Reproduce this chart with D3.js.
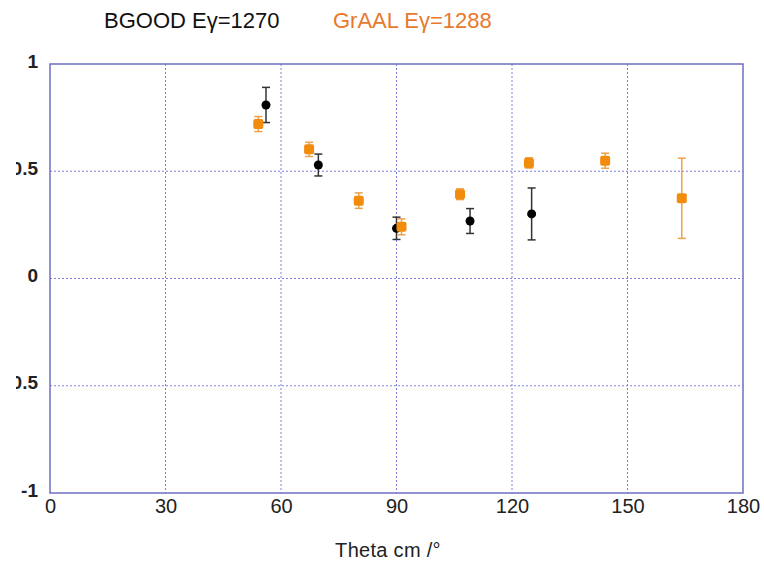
<!DOCTYPE html>
<html><head><meta charset="utf-8">
<script src="https://cdn.jsdelivr.net/npm/d3@7"></script>
<style>body{margin:0;background:#fff}svg{display:block}</style>
</head><body>
<svg id="c" width="764" height="564"></svg>
<script>
const xTicks = [0, 30, 60, 90, 120, 150, 180];
const yTicks = [-1, -0.5, 0, 0.5, 1];
const seriesNames = ["BGOOD E\u03b3=1270", "GrAAL E\u03b3=1288"];
const bgoodTheta = [56.1, 69.7, 90.0, 109.1, 125.1];
const bgoodValue = [0.809, 0.529, 0.234, 0.268, 0.301];
const bgoodError = [0.082, 0.051, 0.052, 0.058, 0.121];
const graalTheta = [54.1, 67.3, 80.2, 91.3, 106.5, 124.4, 144.2, 164.1];
const graalValue = [0.720, 0.602, 0.363, 0.241, 0.393, 0.539, 0.549, 0.374];
const graalError = [0.035, 0.033, 0.036, 0.037, 0.025, 0.024, 0.035, 0.187];

const FONT = "Liberation Sans, Arial, sans-serif";
const svg = d3.select("#c");
const L = 50, R = 743, T = 64, B = 493;
const x = d3.scaleLinear().domain([0, 180]).range([L, R]);
const y = d3.scaleLinear().domain([-1, 1]).range([B, T]);
const gridCol = "#7f7fe0", frameCol = "#6f6fc4";

// grid
svg.append("g").selectAll("line").data(xTicks.filter(d => d > 0 && d < 180)).join("line")
  .attr("x1", d => x(d)).attr("x2", d => x(d)).attr("y1", T).attr("y2", B)
  .attr("stroke", gridCol).attr("stroke-width", 1).attr("stroke-dasharray", "2,2");
svg.append("g").selectAll("line").data(yTicks.filter(d => d > -1 && d < 1)).join("line")
  .attr("x1", L).attr("x2", R).attr("y1", d => y(d)).attr("y2", d => y(d))
  .attr("stroke", gridCol).attr("stroke-width", 1).attr("stroke-dasharray", "2,2");

// frame
svg.append("rect").attr("x", L).attr("y", T).attr("width", R - L).attr("height", B - T)
  .attr("fill", "none").attr("stroke", frameCol).attr("stroke-width", 1.5);

// axes labels via d3 axes
const xAxis = svg.append("g").attr("transform", `translate(0,${B})`)
  .call(d3.axisBottom(x).tickValues(xTicks).tickSize(0).tickPadding(6).tickFormat(d3.format("d")));
xAxis.select(".domain").remove();
xAxis.selectAll("text").attr("font-family", FONT)
  .attr("font-size", 20).attr("fill", "#222");

svg.append("defs").append("clipPath").attr("id", "yclip")
  .append("rect").attr("x", 16).attr("y", 0).attr("width", 40).attr("height", 564);
const yAxis = svg.append("g").attr("clip-path", "url(#yclip)").append("g")
  .attr("transform", `translate(${L},-3)`)
  .call(d3.axisLeft(y).tickValues(yTicks).tickSize(0).tickPadding(12).tickFormat(d => String(d)));
yAxis.select(".domain").remove();
yAxis.selectAll("text").attr("font-family", FONT)
  .attr("font-size", 19).attr("font-weight", "bold").attr("fill", "#222");

svg.append("text").attr("x", 388).attr("y", 557).attr("text-anchor", "middle")
  .attr("font-family", FONT).attr("font-size", 20).attr("letter-spacing", 0.3).attr("fill", "#222")
  .text("Theta cm /\u00b0");

// legend
svg.append("text").attr("x", 104).attr("y", 28).attr("font-family", FONT)
  .attr("font-size", 22).attr("fill", "#111").text(seriesNames[0]);
svg.append("text").attr("x", 333).attr("y", 28).attr("font-family", FONT)
  .attr("font-size", 22).attr("fill", "#e8792c").text(seriesNames[1]);

function drawSeries(thetas, vals, errs, color, errColor, shape) {
  const data = thetas.map((t, i) => ({t, v: vals[i], e: errs[i]}));
  const g = svg.append("g");
  const cap = 4;
  g.selectAll("line.v").data(data).join("line")
    .attr("x1", d => x(d.t)).attr("x2", d => x(d.t))
    .attr("y1", d => y(d.v + d.e)).attr("y2", d => y(d.v - d.e))
    .attr("stroke", errColor).attr("stroke-width", 1.5);
  g.selectAll("line.t").data(data).join("line")
    .attr("x1", d => x(d.t) - cap).attr("x2", d => x(d.t) + cap)
    .attr("y1", d => y(d.v + d.e)).attr("y2", d => y(d.v + d.e))
    .attr("stroke", errColor).attr("stroke-width", 1.5);
  g.selectAll("line.b").data(data).join("line")
    .attr("x1", d => x(d.t) - cap).attr("x2", d => x(d.t) + cap)
    .attr("y1", d => y(d.v - d.e)).attr("y2", d => y(d.v - d.e))
    .attr("stroke", errColor).attr("stroke-width", 1.5);
  if (shape === "circle") {
    g.selectAll("circle").data(data).join("circle")
      .attr("cx", d => x(d.t)).attr("cy", d => y(d.v)).attr("r", 4.5).attr("fill", color);
  } else {
    g.selectAll("rect").data(data).join("rect")
      .attr("x", d => x(d.t) - 5).attr("y", d => y(d.v) - 5).attr("width", 10).attr("height", 10)
      .attr("rx", 2).attr("fill", color);
  }
}
drawSeries(bgoodTheta, bgoodValue, bgoodError, "#000", "#333", "circle");
drawSeries(graalTheta, graalValue, graalError, "#f28c0c", "#eca24a", "square");
</script>
</body></html>
